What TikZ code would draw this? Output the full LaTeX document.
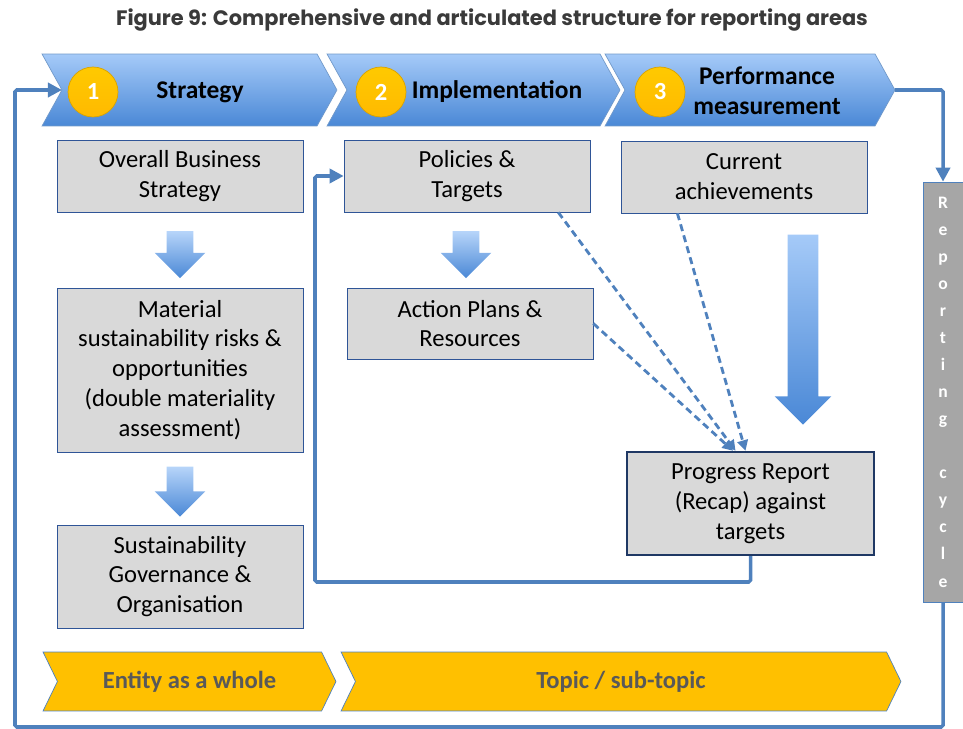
\documentclass[tikz,border=0pt]{standalone}
\usepackage{fontspec}
\setmainfont{Carlito}
\newfontfamily\titlefont{Poppins}
\usetikzlibrary{arrows.meta,positioning,calc,shapes.symbols,shapes.arrows}
\definecolor{lineBlue}{HTML}{4F81BD}
\definecolor{boxBorder}{HTML}{2F5597}
\definecolor{boxFill}{HTML}{D9D9D9}
\definecolor{chevTop}{HTML}{A5CAF8}
\definecolor{chevBot}{HTML}{4A88D6}
\definecolor{goldFill}{HTML}{FFC000}
\definecolor{barFill}{HTML}{A6A6A6}
\definecolor{recapBorder}{HTML}{1F3864}
\definecolor{titleGray}{HTML}{3A3A3A}
\definecolor{tagGray}{HTML}{595959}
\tikzset{
	chev/.style={signal, signal to=east, signal from=west, signal pointer angle=122,
		inner sep=0, outer sep=0, minimum height=1.44cm, draw=lineBlue!80, thin,
		top color=chevTop, bottom color=chevBot},
	tag/.style={signal, signal to=east, signal from=west, signal pointer angle=128,
		inner sep=0, outer sep=0, minimum height=1.18cm, draw=lineBlue, thin,
		fill=goldFill, text=tagGray, font=\fontsize{14}{17}\selectfont\bfseries},
	stepnum/.style={circle, minimum size=1cm, inner sep=0, top color=goldFill!85!yellow,
		bottom color=goldFill!90!orange, draw=goldFill!85!black, thin, text=white,
		font=\fontsize{14}{17}\selectfont\bfseries},
	chevlab/.style={font=\fontsize{14.5}{17}\selectfont\bfseries, align=center},
	topicbox/.style={draw=boxBorder, fill=boxFill, minimum width=4.92cm, align=center,
		font=\fontsize{14}{17}\selectfont},
	down/.style={single arrow, shape border rotate=270, inner sep=0.26cm, outer sep=0,
		single arrow head extend=0.24cm, minimum height=0.94cm,
		top color=chevTop!80!white, bottom color=chevBot},
	loop/.style={draw=lineBlue, line width=2pt, rounded corners=1pt,
		-{Triangle[length=8pt,width=8pt]}},
	feed/.style={draw=lineBlue, line width=1.6pt, dash pattern=on 4pt off 2.5pt,
		-{Triangle[length=6pt,width=6pt]}}
}

\begin{document}
\begin{tikzpicture}[x=0.02cm, y=-0.02cm]
	\useasboundingbox (0,0) rectangle (963,729);
	
	\node[font=\titlefont\fontsize{11.9}{14}\selectfont\bfseries, text=titleGray] (title) at (492,20)
		{Figure 9: Comprehensive and articulated structure for reporting areas};
	
	\node[chev, minimum width=5.9cm] (c1) at (189.5,90) {};
	\node[chev, minimum width=5.86cm] (c2) at (473.5,90) {};
	\node[chev, minimum width=5.8cm] (c3) at (750,90) {};
	\node[stepnum] (n1) at (93,92) {1};
	\node[stepnum] (n2) at (381,92) {2};
	\node[stepnum] (n3) at (660,92) {3};
	\node[chevlab] (l1) at (200,92) {Strategy};
	\node[chevlab] (l2) at (497,92) {Implementation};
	\node[chevlab] (l3) at (767,91) {Performance\\measurement};
	
	\node[topicbox, minimum height=1.44cm] (b1) at (180,176) {Overall Business\\Strategy};
	\node[topicbox, minimum height=3.28cm] (b2) at (180,370)
		{Material\\sustainability risks \&\\opportunities\\(double materiality\\assessment)};
	\node[topicbox, minimum height=2.06cm] (b3) at (180,576.5)
		{Sustainability\\Governance \&\\Organisation};
	\node[topicbox, minimum height=1.44cm] (b4) at (467,176) {Policies \&\\Targets};
	\node[topicbox, minimum height=1.42cm] (b5) at (470,323.5) {Action Plans \&\\Resources};
	\node[topicbox, minimum height=1.44cm] (b6) at (744,177) {Current\\achievements};
	\node[topicbox, minimum height=2.06cm, draw=recapBorder, line width=1.4pt,
		minimum width=4.94cm] (b7) at (750.5,503.5) {Progress Report\\(Recap) against\\targets};
	
	\node[down] (d1) at (180,248) {};
	\node[down, minimum height=1cm] (d2) at (180,485) {};
	\node[down] (d3) at (466,248) {};
	\node[down, inner sep=0.3cm, single arrow head extend=0.26cm, minimum height=3.8cm,
		top color=chevTop, bottom color=chevBot] (d4) at (803,322) {};
	
	\node[draw=lineBlue, fill=barFill, minimum width=0.8cm, minimum height=8.4cm, inner sep=0,
		text=white, align=center, font=\fontsize{10}{15.4}\selectfont\bfseries] (bar) at (943,392)
		{R\\e\\p\\o\\r\\t\\i\\n\\g\\[15.4pt]c\\y\\c\\l\\e};
	
	\node[tag, minimum width=5.86cm] (ent) at (189.5,681.5) {Entity as a whole};
	\node[tag, minimum width=11.2cm] (topic) at (621,681.5) {Topic / sub-topic};
	
	\draw[feed] ($(b4.south west)!0.87!(b4.south east)$) -- ($(b7.north west)!0.44!(b7.north east)$);
	\draw[feed] (b5.east) -- ($(b7.north west)!0.43!(b7.north east)$);
	\draw[feed] ($(b6.south west)!0.23!(b6.south east)$) -- ($(b7.north west)!0.48!(b7.north east)$);
	
	\coordinate (fbk) at (315,582);
	\draw[loop] (b7.south) |- (fbk) |- (b4.west);
	
	\coordinate (rcLow) at (15,727);
	\draw[loop] (c3.east) -| (bar.north);
	\draw[loop] (bar.south) |- (rcLow) |- (c1.west);
\end{tikzpicture}
\end{document}
